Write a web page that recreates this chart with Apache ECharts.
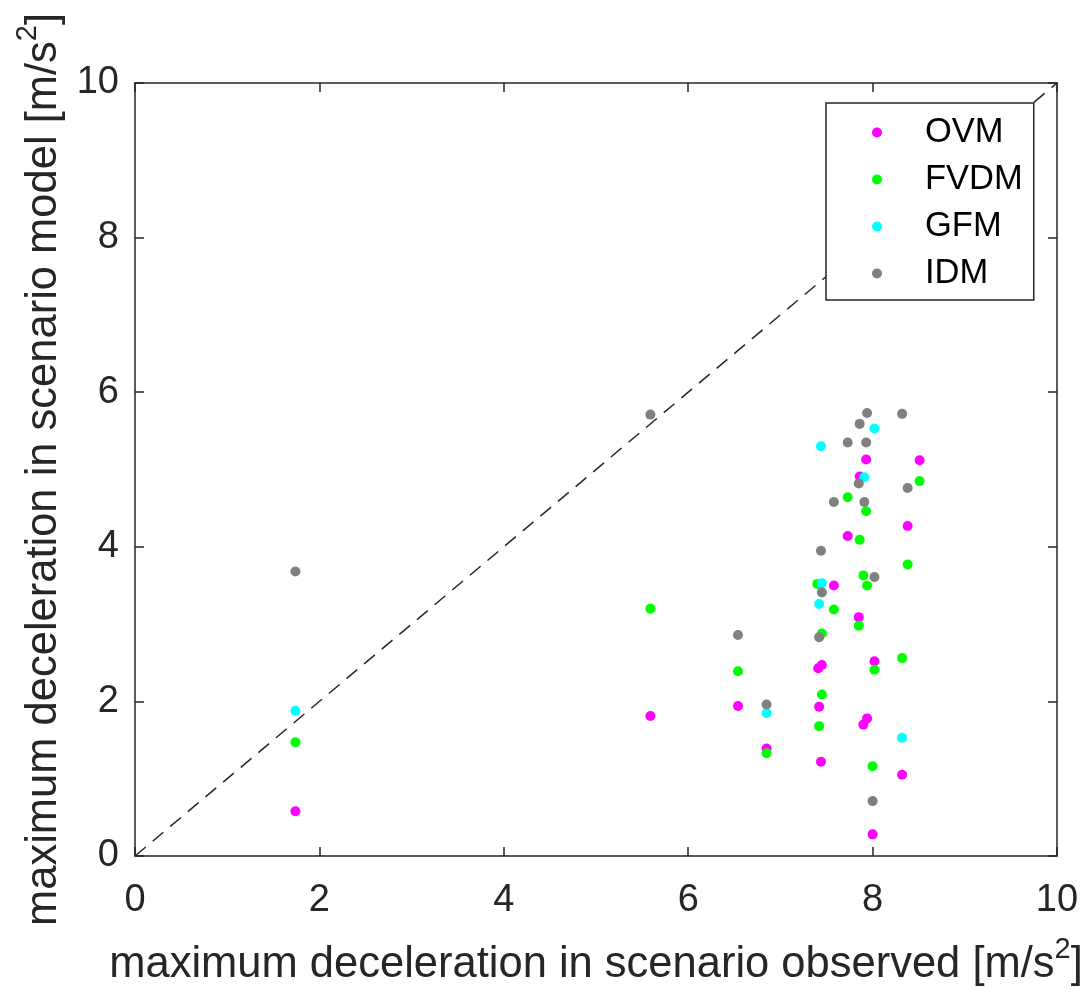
<!DOCTYPE html>
<html>
<head>
<meta charset="utf-8">
<script src="https://cdn.jsdelivr.net/npm/echarts@6/dist/echarts.min.js"></script>
<style>
  html, body { margin: 0; padding: 0; background: #fff; }
  #chart { width: 1092px; height: 993px; }
</style>
</head>
<body>
<div id="chart"></div>
<script>
// observed vs model max deceleration, one [observed, model] pair per scenario
const seriesNames = ['OVM', 'FVDM', 'GFM', 'IDM'];
const seriesColors = ['#ff00ff', '#00ff00', '#00ffff', '#808080'];
const axisTicks = [0, 2, 4, 6, 8, 10];
const refLine = [[0, 0], [10, 10]];

const ovm = [
    [1.74, 0.58], [5.59, 1.81], [6.54, 1.94], [6.85, 1.39], [7.93, 5.13], [8.51, 5.12],
    [7.86, 4.91], [8.38, 4.27], [7.73, 4.14], [7.58, 3.50], [7.85, 3.09], [8.02, 2.52],
    [7.45, 2.47], [7.41, 2.43], [7.42, 1.93], [7.94, 1.78], [7.90, 1.70], [7.44, 1.22],
    [8.32, 1.05], [8.00, 0.28]
];
const fvdm = [
    [1.74, 1.47], [5.59, 3.20], [6.54, 2.39], [6.85, 1.33], [8.51, 4.85], [7.73, 4.64],
    [7.93, 4.46], [7.86, 4.09], [8.38, 3.77], [7.90, 3.63], [7.94, 3.50], [7.40, 3.52],
    [7.58, 3.19], [7.85, 2.98], [7.45, 2.88], [8.32, 2.56], [8.02, 2.41], [7.45, 2.09],
    [7.42, 1.68], [8.00, 1.16]
];
const gfm = [
    [1.74, 1.88], [6.85, 1.85], [8.02, 5.53], [7.44, 5.30], [7.91, 4.90], [7.45, 3.53],
    [7.42, 3.26], [8.32, 1.53]
];
const idm = [
    [1.74, 3.68], [5.59, 5.71], [6.54, 2.86], [6.85, 1.96], [7.94, 5.73], [8.32, 5.72],
    [7.86, 5.59], [7.73, 5.35], [7.93, 5.35], [7.85, 4.82], [8.38, 4.76], [7.58, 4.58],
    [7.91, 4.58], [7.44, 3.95], [8.02, 3.61], [7.45, 3.41], [7.42, 2.83], [8.00, 0.71]
];
const seriesData = [ovm, fvdm, gfm, idm];

const FONT = '"Liberation Sans", Arial, Helvetica, sans-serif';
const INK = '#262626';

const chart = echarts.init(document.getElementById('chart'));

const nameRich = {
    t: { fontSize: 43.5, fontFamily: FONT, color: INK, lineHeight: 60 },
    sup: { fontSize: 29, fontFamily: FONT, color: INK, lineHeight: 29, verticalAlign: 'top' }
};

const baseAxis = (pos, labels) => ({
    type: 'value',
    position: pos,
    min: axisTicks[0],
    max: axisTicks[axisTicks.length - 1],
    interval: 2,
    axisLine: { show: true, onZero: false, lineStyle: { color: INK, width: 1.5 } },
    axisTick: { show: true, inside: true, length: 9, lineStyle: { color: INK, width: 1.5 } },
    axisLabel: { show: labels, color: INK, fontSize: 38, fontFamily: FONT },
    splitLine: { show: false }
});

const option = {
    backgroundColor: '#fff',
    animation: false,
    grid: { left: 135, top: 83, right: 35, bottom: 137, containLabel: false },
    xAxis: [
        Object.assign(baseAxis('bottom', true), {
            name: '{t|maximum deceleration in scenario observed [m/s}{sup|2}{t|]}',
            nameLocation: 'middle',
            nameGap: 79,
            nameTextStyle: { rich: nameRich },
            axisLabel: { color: INK, fontSize: 38, fontFamily: FONT, margin: 26 }
        }),
        baseAxis('top', false)
    ],
    yAxis: [
        Object.assign(baseAxis('left', true), {
            name: '{t|maximum deceleration in scenario model [m/s}{sup|2}{t|]}',
            nameLocation: 'middle',
            nameGap: 60,
            nameTextStyle: { rich: nameRich },
            axisLabel: { color: INK, fontSize: 38, fontFamily: FONT, margin: 16 }
        }),
        baseAxis('right', false)
    ],
    legend: {
        orient: 'vertical',
        left: 826,
        top: 103,
        padding: [12, 11, 9, 46],
        itemGap: 12,
        itemWidth: 10,
        itemHeight: 10,
        icon: 'circle',
        backgroundColor: '#fff',
        borderColor: INK,
        borderWidth: 1.5,
        borderRadius: 0,
        data: seriesNames,
        formatter: n => '{g|}{n|' + n + '}',
        textStyle: {
            color: '#000', fontSize: 34.5, fontFamily: FONT, lineHeight: 34,
            rich: {
                g: { width: 38 },
                n: { color: '#000', fontSize: 34.5, fontFamily: FONT, lineHeight: 34 }
            }
        }
    },
    series: [
        {
            name: 'y = x',
            type: 'line',
            data: refLine,
            symbol: 'none',
            silent: true,
            z: 1,
            lineStyle: { color: INK, width: 1.5, type: [14, 9] }
        }
    ].concat(seriesNames.map((n, i) => ({
        name: n,
        type: 'scatter',
        data: seriesData[i],
        symbol: 'circle',
        symbolSize: 10,
        z: 3,
        itemStyle: { color: seriesColors[i], opacity: 1 }
    })))
};

chart.setOption(option);
</script>
</body>
</html>
